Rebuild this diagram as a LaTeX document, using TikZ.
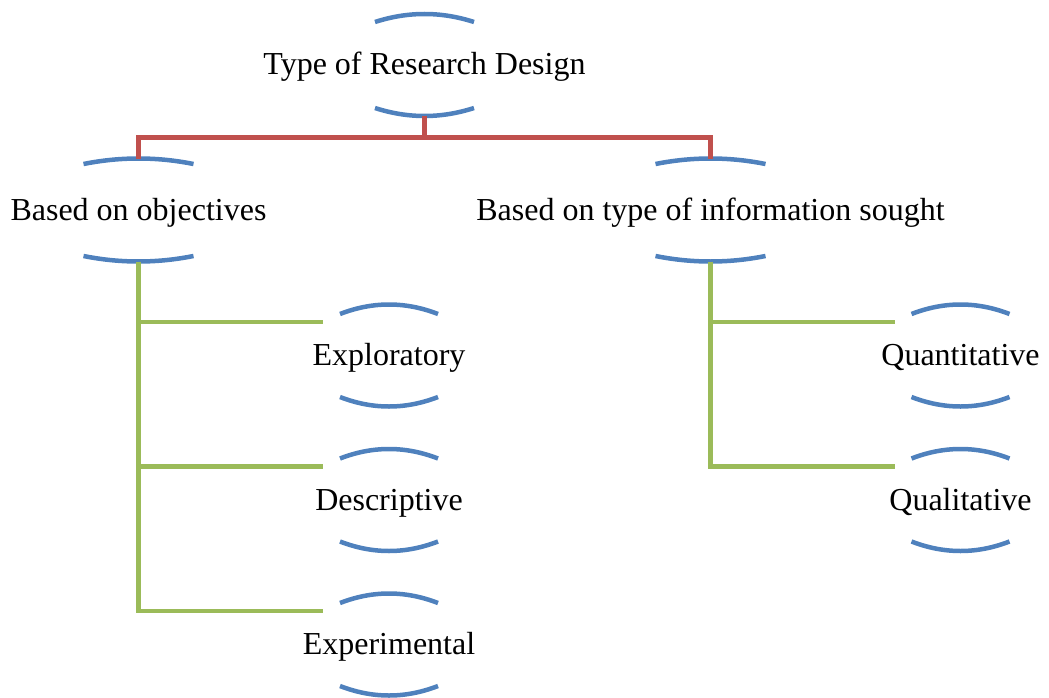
\documentclass[tikz,border=0pt]{standalone}
\usepackage{fontspec}
\setmainfont{Liberation Serif}
\usetikzlibrary{calc}

\definecolor{arcblue}{HTML}{4F81BD}
\definecolor{linkred}{HTML}{C0504D}
\definecolor{linkgreen}{HTML}{9BBB59}

% Caps-centred label: the node centre sits half a cap height above the baseline
\tikzset{
  lbl/.style={inner sep=0pt, text height=20pt, text depth=0pt, anchor=center,
              font=\fontsize{32}{38}\selectfont},
  arcline/.style={draw=arcblue, line width=4.5pt},
  redlink/.style={draw=linkred, line width=4.5pt},
  greenlink/.style={draw=linkgreen, line width=4.5pt},
}

% #1 node, #2 half width, #3 vertical offset of arc ends, #4 sag of the arcs
\newcommand\bracketarcs[4]{%
  \draw[arcline] ($(#1.center)+(-#2,{-#3})$)
    .. controls ($(#1.center)+({-#2/3},{-#3-4*#4/3})$) and ($(#1.center)+({#2/3},{-#3-4*#4/3})$)
    .. ($(#1.center)+(#2,{-#3})$);
  \draw[arcline] ($(#1.center)+(-#2,{#3})$)
    .. controls ($(#1.center)+({-#2/3},{#3+4*#4/3})$) and ($(#1.center)+({#2/3},{#3+4*#4/3})$)
    .. ($(#1.center)+(#2,{#3})$);
  \coordinate (#1-top) at ($(#1.center)+(0,{-#3-#4})$);
  \coordinate (#1-bot) at ($(#1.center)+(0,{#3+#4})$);
  \coordinate (#1-in) at ($(#1.center)+({-66},{-33.5})$);
}

\begin{document}
\begin{tikzpicture}[x=1pt, y=-1pt]
  \useasboundingbox (0,0) rectangle (1049,698);

  % labels
  \node[lbl] (root) at (424.5,65) {Type of Research Design};
  \node[lbl] (obj)  at (138.5,210) {Based on objectives};
  \node[lbl] (info) at (710.5,210) {Based on type of information sought};
  \node[lbl] (expl) at (389,355.5) {Exploratory};
  \node[lbl] (desc) at (389,500) {Descriptive};
  \node[lbl] (expe) at (389,644.5) {Experimental};
  \node[lbl] (quan) at (960.5,355.5) {Quantitative};
  \node[lbl] (qual) at (960.5,500) {Qualitative};

  % bracket arcs above and below each label
  \bracketarcs{root}{49.5}{43}{8}
  \bracketarcs{obj}{55}{46}{5.5}
  \bracketarcs{info}{55}{46}{5.5}
  \bracketarcs{expl}{49}{41.5}{9.5}
  \bracketarcs{desc}{49}{41.5}{9.5}
  \bracketarcs{expe}{49}{41.5}{9.5}
  \bracketarcs{quan}{49}{41.5}{9.5}
  \bracketarcs{qual}{49}{41.5}{9.5}

  % first level connectors
  \coordinate (bus) at (424.5,137.5);
  \draw[redlink] (root-bot) -- (bus) -| (obj-top);
  \draw[redlink] (bus) -| (info-top);

  % second level connectors
  \draw[greenlink] (obj-bot) |- (expl-in);
  \draw[greenlink] (obj-bot) |- (desc-in);
  \draw[greenlink] (obj-bot) |- (expe-in);
  \draw[greenlink] (info-bot) |- (quan-in);
  \draw[greenlink] (info-bot) |- (qual-in);
\end{tikzpicture}
\end{document}
